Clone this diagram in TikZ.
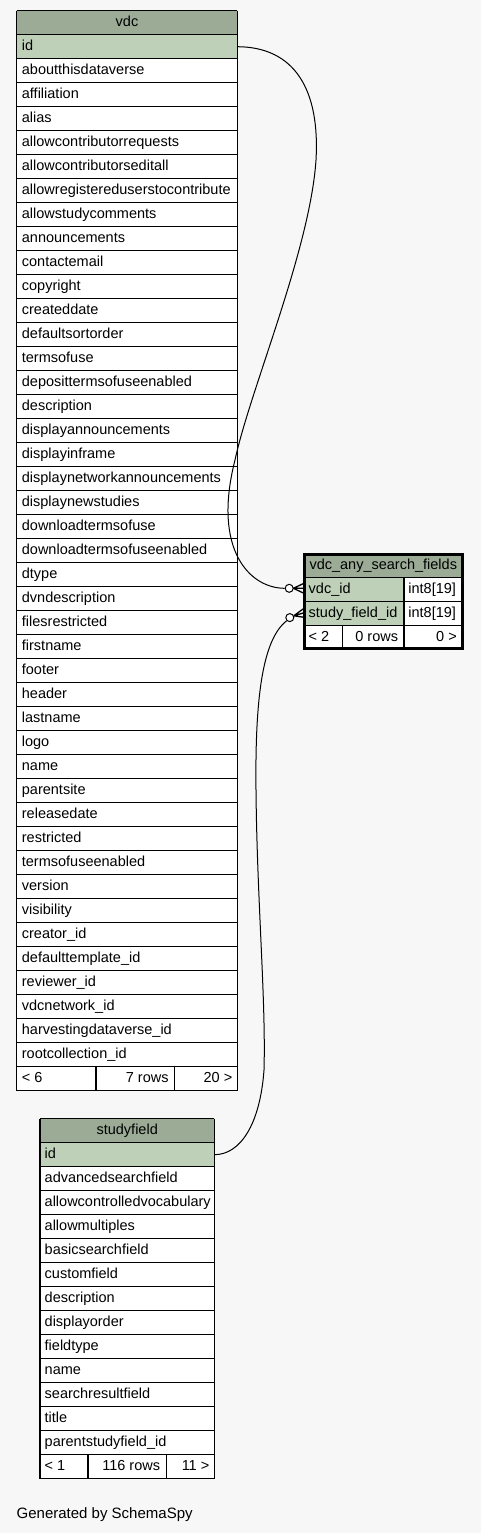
\documentclass[tikz,border=0pt]{standalone}
\usepackage{fontspec}
\setmainfont{Liberation Sans}
\definecolor{bgcol}{HTML}{F7F7F7}
\definecolor{hdrcol}{HTML}{9BAB96}
\definecolor{pkcol}{HTML}{BED1B8}
\tikzset{
  fld/.style={anchor=base west, inner sep=0, font=\fontsize{14.5}{17}\selectfont},
  fldr/.style={anchor=base east, inner sep=0, font=\fontsize{14.5}{17}\selectfont},
  hdr/.style={anchor=base, inner sep=0, font=\fontsize{14.5}{17}\selectfont},
  grid/.style={draw=black, line width=1.1pt},
  rel/.style={draw=black, line width=1pt},
  odot/.style={circle, draw=black, line width=1pt, fill=white, minimum size=8pt, inner sep=0},
  crow/.style={draw=black, line width=1.3pt}
}
\begin{document}
\begin{tikzpicture}[x=1pt,y=-1pt]
\useasboundingbox[fill=bgcol] (0,0) rectangle (481,1533);

% ---------------- vdc table ----------------
\fill[white] (16.7,10.7) rectangle (237.3,1090.7);
\fill[hdrcol] (16.7,10.7) rectangle (237.3,34.7);
\fill[pkcol] (16.7,34.7) rectangle (237.3,58.7);
\foreach \k in {0,...,45} {
  \draw[grid] (16.7,{10.7+24*\k}) -- (237.3,{10.7+24*\k});
}
\draw[grid] (16.7,10.7) -- (16.7,1090.7);
\draw[grid] (237.3,10.7) -- (237.3,1090.7);
\draw[grid] (96,1066.7) -- (96,1090.7);
\draw[grid] (174.7,1066.7) -- (174.7,1090.7);
\node[hdr] (vdc-h) at (127,26.2) {vdc};
\node[fld] (vdc-0) at (21.7,50.2) {id};
\foreach \n [count=\i] in {aboutthisdataverse, affiliation, alias, allowcontributorrequests, allowcontributorseditall, allowregistereduserstocontribute, allowstudycomments, announcements, contactemail, copyright, createddate, defaultsortorder, termsofuse, deposittermsofuseenabled, description, displayannouncements, displayinframe, displaynetworkannouncements, displaynewstudies, downloadtermsofuse, downloadtermsofuseenabled, dtype, dvndescription, filesrestricted, firstname, footer, header, lastname, logo, name, parentsite, releasedate, restricted, termsofuseenabled, version, visibility, creator\_id, defaulttemplate\_id, reviewer\_id, vdcnetwork\_id, harvestingdataverse\_id, rootcollection\_id} {
  \node[fld] (vdc-\i) at (21.7,{50.2+24*\i}) {\n};
}
\node[fld] (vdc-f1) at (21.7,1082.2) {< 6};
\node[fldr] (vdc-f2) at (168.8,1082.2) {7 rows};
\node[fldr] (vdc-f3) at (232.5,1082.2) {20 >};

% ---------------- studyfield table ----------------
\fill[white] (40,1118.7) rectangle (214.3,1478.7);
\fill[hdrcol] (40,1118.7) rectangle (214.3,1142.7);
\fill[pkcol] (40,1142.7) rectangle (214.3,1166.7);
\foreach \k in {0,...,15} {
  \draw[grid] (40,{1118.7+24*\k}) -- (214.3,{1118.7+24*\k});
}
\draw[grid] (40,1118.7) -- (40,1478.7);
\draw[grid] (214.3,1118.7) -- (214.3,1478.7);
\draw[grid] (88,1454.7) -- (88,1478.7);
\draw[grid] (166.7,1454.7) -- (166.7,1478.7);
\node[hdr] (sf-h) at (127.2,1134.2) {studyfield};
\node[fld] (sf-0) at (44.5,1158.2) {id};
\foreach \n [count=\i] in {advancedsearchfield, allowcontrolledvocabulary, allowmultiples, basicsearchfield, customfield, description, displayorder, fieldtype, name, searchresultfield, title, parentstudyfield\_id} {
  \node[fld] (sf-\i) at (44.5,{1158.2+24*\i}) {\n};
}
\node[fld] (sf-f1) at (44.5,1470.2) {< 1};
\node[fldr] (sf-f2) at (160.3,1470.2) {116 rows};
\node[fldr] (sf-f3) at (209.5,1470.2) {11 >};

% ---------------- vdc_any_search_fields table ----------------
\fill[white] (303.3,553.3) rectangle (464,649.3);
\fill[hdrcol] (303.3,553.3) rectangle (464,577.3);
\fill[pkcol] (303.3,577.3) rectangle (404,625.3);
\draw[grid] (303.3,577.3) -- (464,577.3);
\draw[grid] (303.3,601.3) -- (464,601.3);
\draw[grid] (303.3,625.3) -- (464,625.3);
\draw[grid] (404,577.3) -- (404,649.3);
\draw[grid] (342.3,625.3) -- (342.3,649.3);
\draw[draw=black, line width=3.2pt] (304.3,554.8) rectangle (462.5,648.5);
\node[hdr] (a-h) at (383.3,569.2) {vdc\_any\_search\_fields};
\node[fld] (a-1) at (308.5,593.2) {vdc\_id};
\node[fld] (a-1t) at (408.2,593.2) {int8[19]};
\node[fld] (a-2) at (308.5,617.2) {study\_field\_id};
\node[fld] (a-2t) at (408.2,617.2) {int8[19]};
\node[fld] (a-f1) at (308.5,641.2) {< 2};
\node[fldr] (a-f2) at (398.3,641.2) {0 rows};
\node[fldr] (a-f3) at (457,641.2) {0 >};

% ---------------- connectors ----------------
\coordinate (vdcid-e) at (237.3,46.7);
\coordinate (sfid-e) at (214.3,1154.7);
\coordinate (r1a) at (303.3,583.6);
\coordinate (r1b) at (303.3,588.3);
\coordinate (r1c) at (303.3,593);
\coordinate (r2a) at (303.3,608.8);
\coordinate (r2b) at (303.3,613);
\coordinate (r2c) at (303.3,617.2);
\node[odot] (c1) at (289.2,588.3) {};
\node[odot] (c2) at (289.8,617.6) {};
\coordinate (t1) at (293.4,588.3);
\coordinate (t2) at (293.8,615.8);

\draw[rel] (vdcid-e) .. controls (295,47) and (320,90) .. (316,160)
  .. controls (310,250) and (250,390) .. (235,460)
  .. controls (212,550) and (250,588.3) .. (c1.west);
\draw[rel] (c2.south west) .. controls (262,640) and (255,700) .. (256,790)
  .. controls (257,900) and (266,1000) .. (264,1070)
  .. controls (260,1125) and (240,1154.7) .. (sfid-e);
\draw[crow] (t1) -- (r1a) (t1) -- (r1b) (t1) -- (r1c);
\draw[crow] (t2) -- (r2a) (t2) -- (r2b) (t2) -- (r2c);
\draw[rel] (c1.east) -- (t1);

% ---------------- footer ----------------
\node[fld, font=\fontsize{15}{18}\selectfont] (gen) at (16.5,1518.3) {Generated by SchemaSpy};
\end{tikzpicture}
\end{document}
